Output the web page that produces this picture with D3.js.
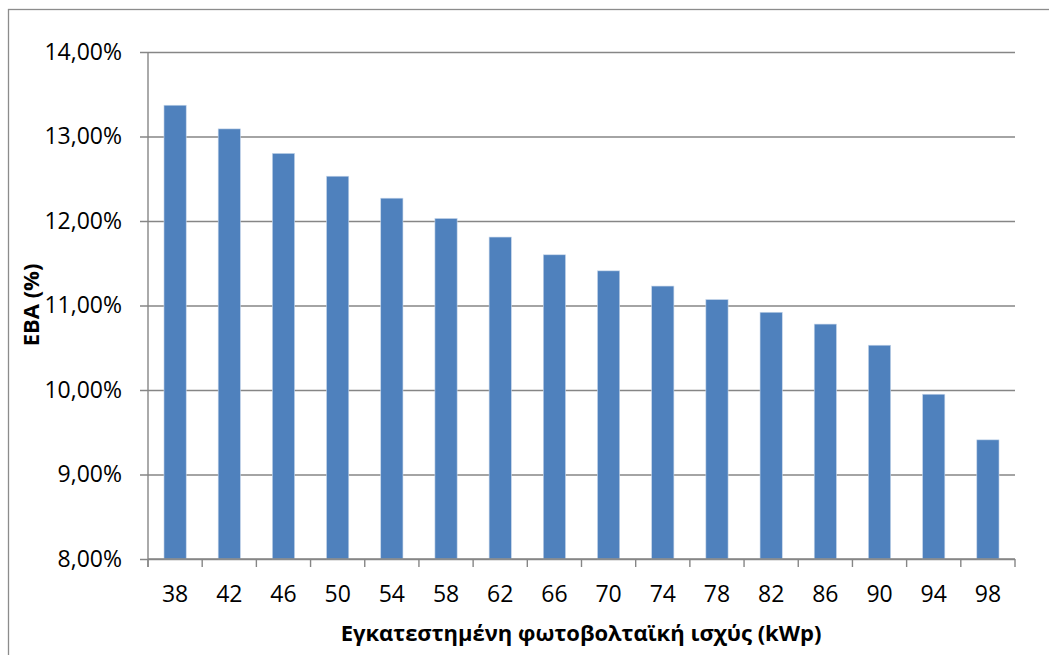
<!DOCTYPE html>
<html>
<head>
<meta charset="utf-8">
<script src="https://cdn.jsdelivr.net/npm/d3@7"></script>
<style>
  html, body { margin: 0; padding: 0; background: #fff; }
  svg { display: block; }
  text { font-family: "Open Sans", "Noto Sans", sans-serif; fill: #000; }
</style>
</head>
<body>
<svg id="chart" width="1049" height="655"></svg>
<script>
// Installed PV capacity (kWp) and the resulting IRR (%)
const capacities = ["38", "42", "46", "50", "54", "58", "62", "66", "70", "74", "78", "82", "86", "90", "94", "98"];
const irr = [13.37, 13.09, 12.80, 12.53, 12.27, 12.03, 11.81, 11.60, 11.41, 11.23, 11.07, 10.92, 10.78, 10.53, 9.95, 9.41];
const yTicks = [8, 9, 10, 11, 12, 13, 14];
const xTitle = "Εγκατεστημένη φωτοβολταϊκή ισχύς (kWp)";
const yTitle = "ΕΒΑ (%)";

const svg = d3.select("#chart");
const margin = { left: 148, right: 1015, top: 52, bottom: 559 };
const gridColor = "#868686";

// Outer chart frame
svg.append("rect")
  .attr("x", 8.5).attr("y", 9.5)
  .attr("width", 1100).attr("height", 700)
  .attr("fill", "none").attr("stroke", "#8c8c8c").attr("stroke-width", 1.3);

const x = d3.scaleBand()
  .domain(capacities)
  .range([margin.left, margin.right])
  .paddingInner(0.59)
  .paddingOuter(0.295);

const y = d3.scaleLinear()
  .domain([8, 14])
  .range([margin.bottom, margin.top]);

const fmt = v => d3.format(".2f")(v).replace(".", ",") + "%";

// Horizontal gridlines with tick labels
const yAxis = d3.axisLeft(y)
  .tickValues(yTicks)
  .tickFormat(fmt)
  .tickSize(-(margin.right - margin.left))
  .tickPadding(26);

const gy = svg.append("g")
  .attr("transform", `translate(${margin.left},0)`)
  .call(yAxis);
gy.select(".domain").remove();
gy.selectAll(".tick line")
  .attr("x1", -8)
  .attr("stroke", gridColor).attr("stroke-width", 1.4);
gy.selectAll(".tick text")
  .attr("font-size", 23)
  .attr("fill", "#000");

// Bars
svg.append("g")
  .selectAll("rect")
  .data(irr)
  .join("rect")
  .attr("x", (d, i) => x(capacities[i]))
  .attr("y", d => y(d))
  .attr("width", x.bandwidth())
  .attr("height", d => y(8) - y(d))
  .attr("fill", "#4F81BD")
  .attr("stroke", "#c6d6ea")
  .attr("stroke-width", 0.6);

// Vertical axis line
svg.append("line")
  .attr("x1", margin.left).attr("x2", margin.left)
  .attr("y1", margin.top).attr("y2", margin.bottom + 8)
  .attr("stroke", gridColor).attr("stroke-width", 1.4);

// Category axis
const boundaries = d3.range(capacities.length + 1).map(i => margin.left + i * (margin.right - margin.left) / capacities.length);
const gx = svg.append("g");
gx.append("line")
  .attr("x1", margin.left).attr("x2", margin.right)
  .attr("y1", margin.bottom).attr("y2", margin.bottom)
  .attr("stroke", gridColor).attr("stroke-width", 1.4);
gx.selectAll("line.tick")
  .data(boundaries)
  .join("line")
  .attr("class", "tick")
  .attr("x1", d => d).attr("x2", d => d)
  .attr("y1", margin.bottom).attr("y2", margin.bottom + 8)
  .attr("stroke", gridColor).attr("stroke-width", 1.4);
gx.selectAll("text")
  .data(capacities)
  .join("text")
  .attr("x", d => x(d) + x.bandwidth() / 2)
  .attr("y", 602)
  .attr("text-anchor", "middle")
  .attr("font-size", 23)
  .text(d => d);

// Axis titles
svg.append("text")
  .attr("x", 581).attr("y", 641)
  .attr("text-anchor", "middle")
  .attr("font-size", 22)
  .attr("font-weight", "bold")
  .text(xTitle);

svg.append("text")
  .attr("transform", "translate(39,305) rotate(-90)")
  .attr("text-anchor", "middle")
  .attr("font-size", 22)
  .attr("font-weight", "bold")
  .text(yTitle);
</script>
</body>
</html>
